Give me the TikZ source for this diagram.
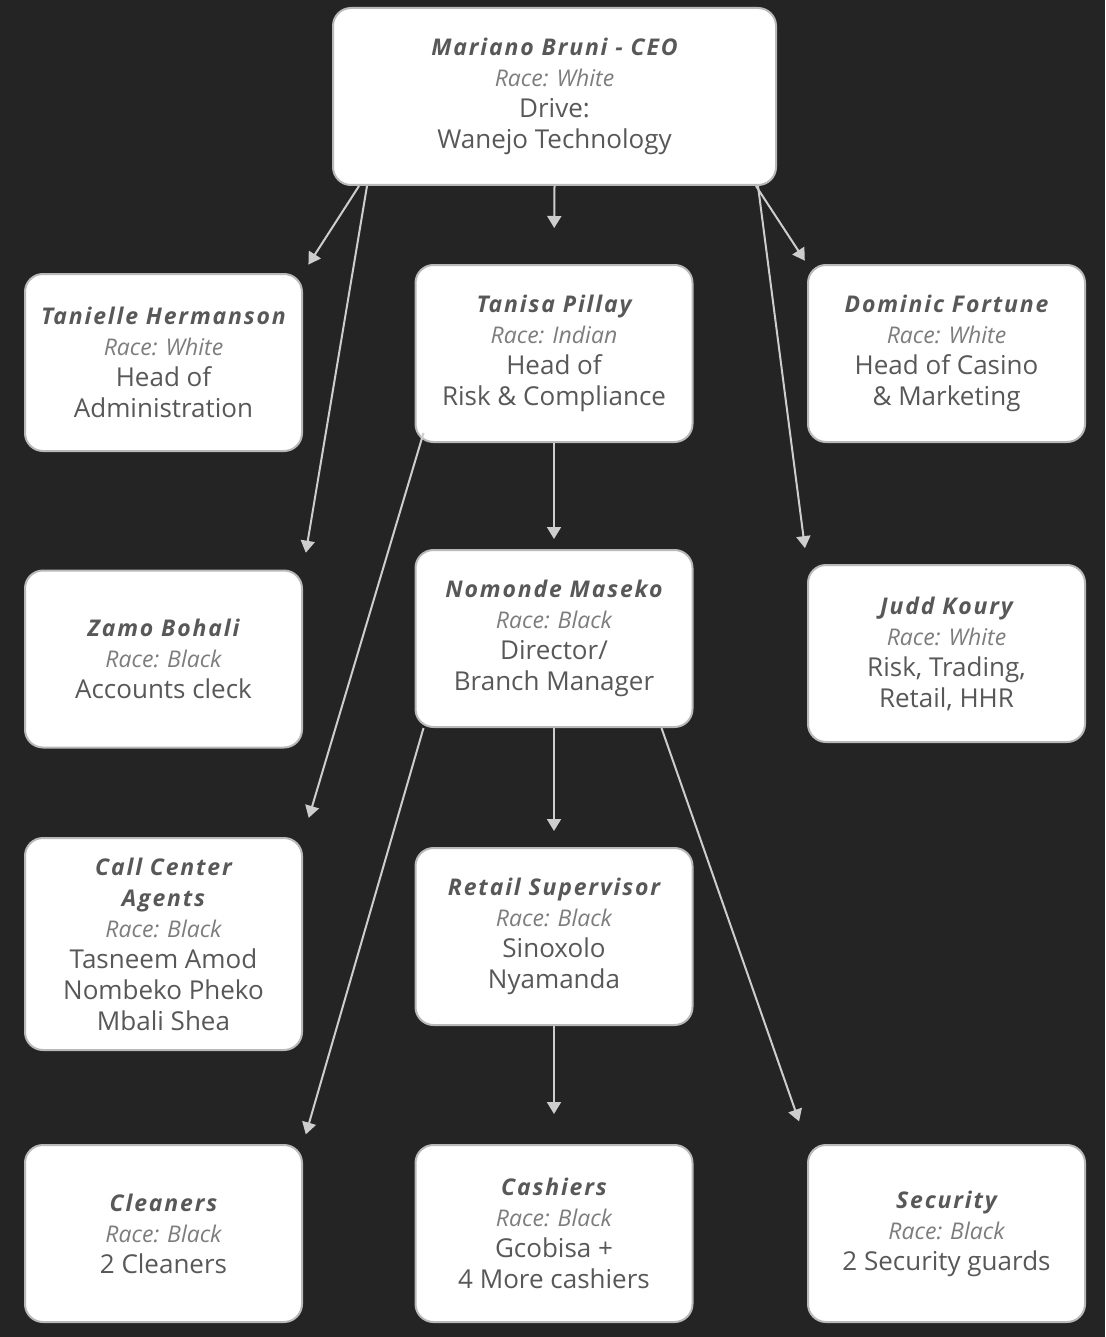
\documentclass[tikz,border=0pt]{standalone}
\usepackage{fontspec}
\setmainfont{Open Sans}
\usetikzlibrary{arrows.meta}

\definecolor{bgdark}{RGB}{36,36,36}
\definecolor{txtgray}{RGB}{88,88,88}
\definecolor{racegray}{RGB}{125,125,125}
\definecolor{edgegray}{RGB}{185,185,185}
\definecolor{arrgray}{RGB}{205,205,205}

\newcommand{\pname}[1]{{\fontsize{11.5}{15.5}\selectfont\bfseries\itshape\addfontfeature{LetterSpace=8}#1}}
\newcommand{\prace}[1]{{\fontsize{11.5}{15.5}\selectfont\itshape\color{racegray}Race: #1}}

\tikzset{
  card/.style={draw=edgegray, line width=1pt, fill=white, rounded corners=9pt,
    minimum width=138.5pt, minimum height=88.5pt, align=center, text=txtgray,
    font=\fontsize{13}{15.5}\selectfont, inner sep=2pt},
  link/.style={draw=arrgray, line width=1pt, -{Triangle[length=6pt,width=7pt]}}
}

\begin{document}
\begin{tikzpicture}[x=0.5pt,y=-0.5pt]
\fill[bgdark] (0,0) rectangle (1105,1337);

%Shape: Box
\node[card, minimum width=221.5pt] (ceo) at (554.5,96.5) {\pname{Mariano Bruni - CEO}\\ \prace{White}\\ Drive:\\ Wanejo Technology};
%Shape: Box
\node[card] (tanielle) at (163.5,362.5) {\pname{Tanielle Hermanson}\\ \prace{White}\\ Head of\\ Administration};
%Shape: Box
\node[card] (tanisa) at (554,353.5) {\pname{Tanisa Pillay}\\ \prace{Indian}\\ Head of\\ Risk \& Compliance};
%Shape: Box
\node[card] (dominic) at (946.5,353.5) {\pname{Dominic Fortune}\\ \prace{White}\\ Head of Casino\\ \& Marketing};
%Shape: Box
\node[card] (zamo) at (163.5,659) {\pname{Zamo Bohali}\\ \prace{Black}\\ Accounts cleck};
%Shape: Box
\node[card] (nomonde) at (554,638.5) {\pname{Nomonde Maseko}\\ \prace{Black}\\ Director/\\ Branch Manager};
%Shape: Box
\node[card] (judd) at (946.5,653.5) {\pname{Judd Koury}\\ \prace{White}\\ Risk, Trading,\\ Retail, HHR};
%Shape: Box
\node[card, minimum height=106pt] (agents) at (163.5,944) {\pname{Call Center}\\ \pname{Agents}\\ \prace{Black}\\ Tasneem Amod\\ Nombeko Pheko\\ Mbali Shea};
%Shape: Box
\node[card] (retail) at (554,936.5) {\pname{Retail Supervisor}\\ \prace{Black}\\ Sinoxolo\\ Nyamanda};
%Shape: Box
\node[card] (cleaners) at (163.5,1233.5) {\pname{Cleaners}\\ \prace{Black}\\ 2 Cleaners};
%Shape: Box
\node[card] (cashiers) at (554,1233.5) {\pname{Cashiers}\\ \prace{Black}\\ Gcobisa +\\ 4 More cashiers};
%Shape: Box
\node[card] (security) at (946.5,1233.5) {\pname{Security}\\ \prace{Black}\\ 2 Security guards};

%Straight Lines
\draw[link, shorten >=18pt] (ceo.south) -- (tanisa.north);
\draw[link, shorten >=5pt] ([xshift=13.5pt]ceo.south west) -- (tanielle.north east);
\draw[link, shorten >=8.5pt] ([xshift=17.5pt]ceo.south west) -- (zamo.north east);
\draw[link, shorten >=2pt] ([xshift=-10.5pt]ceo.south east) -- (dominic.north west);
\draw[link, shorten >=8pt] ([xshift=-9.5pt]ceo.south east) -- (judd.north west);
%Straight Lines
\draw[link, shorten >=5pt] (tanisa.south) -- (nomonde.north);
\draw[link, shorten >=10pt] ([xshift=4.5pt,yshift=5pt]tanisa.south west) -- (agents.north east);
%Straight Lines
\draw[link, shorten >=8pt] (nomonde.south) -- (retail.north);
\draw[link, shorten >=5pt] ([xshift=4.5pt]nomonde.south west) -- (cleaners.north east);
\draw[link, shorten >=12pt] ([xshift=-16pt]nomonde.south east) -- (security.north west);
%Straight Lines
\draw[link, shorten >=15pt] (retail.south) -- (cashiers.north);
\end{tikzpicture}
\end{document}
